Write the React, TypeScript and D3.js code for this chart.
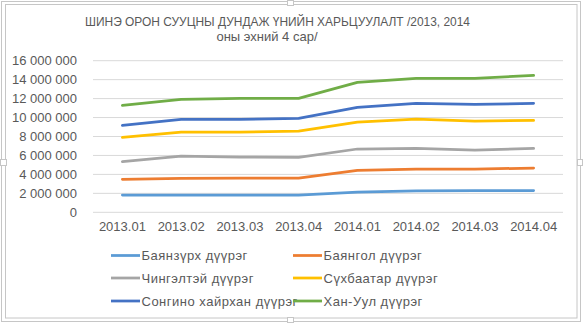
import React from "react";
import * as d3 from "d3";

const categories = ["2013.01", "2013.02", "2013.03", "2013.04", "2014.01", "2014.02", "2014.03", "2014.04"];
const seriesNames = [
  "Баянзүрх дүүрэг",
  "Баянгол дүүрэг",
  "Чингэлтэй дүүрэг",
  "Сүхбаатар дүүрэг",
  "Сонгино хайрхан дүүрэг",
  "Хан-Уул дүүрэг",
];
const bayanzurkh = [1820000, 1820000, 1820000, 1820000, 2140000, 2250000, 2300000, 2300000];
const bayangol = [3480000, 3580000, 3600000, 3600000, 4430000, 4560000, 4560000, 4670000];
const chingeltei = [5340000, 5940000, 5830000, 5800000, 6680000, 6750000, 6570000, 6750000];
const sukhbaatar = [7910000, 8470000, 8470000, 8570000, 9520000, 9840000, 9620000, 9700000];
const songino = [9170000, 9800000, 9800000, 9910000, 11070000, 11500000, 11390000, 11500000];
const khanuul = [11280000, 11920000, 12030000, 12020000, 13710000, 14130000, 14130000, 14450000];
const seriesValues = [bayanzurkh, bayangol, chingeltei, sukhbaatar, songino, khanuul];
const colors = ["#5B9BD5", "#ED7D31", "#A5A5A5", "#FFC000", "#4472C4", "#70AD47"];
const yTicks = [0, 2000000, 4000000, 6000000, 8000000, 10000000, 12000000, 14000000, 16000000];

const W = 584;
const H = 323;
const FONT = "'Liberation Sans', Arial, sans-serif";

export default function App() {
  const x = d3.scaleBand<string>().domain(categories).range([93, 563]);
  const y = d3.scaleLinear().domain([0, 16000000]).range([212.3, 60.7]);
  const line = d3
    .line<number>()
    .x((_, i) => (x(categories[i]) as number) + x.bandwidth() / 2)
    .y((d) => y(d));
  const fmt = (v: number) => d3.format(",")(v).replace(/,/g, " ");

  const legendPos = [
    [111, 255.5],
    [293, 255.5],
    [111, 278],
    [293, 278],
    [111, 301],
    [293, 301],
  ];

  return (
    <svg
      width={W}
      height={H}
      style={{ position: "absolute", left: 0, top: 0, background: "#fff", fontFamily: FONT }}
    >
      <rect x={1.5} y={1.5} width={579} height={320} fill="none" stroke="#c6c6c6" />
      <rect x={5.5} y={4.5} width={571.5} height={313.5} fill="#fff" stroke="#c6c6c6" />
      <rect x={287.5} y={0.5} width={6} height={5} fill="#fff" stroke="#c6c6c6" />
      <rect x={287.5} y={317.5} width={6} height={5} fill="#fff" stroke="#c6c6c6" />
      <rect x={0.5} y={159.5} width={6} height={6} fill="#fff" stroke="#c6c6c6" />
      <rect x={577.5} y={159.5} width={5} height={6} fill="#fff" stroke="#c6c6c6" />

      <text
        x={85}
        y={25.5}
        fontSize={13.5}
        fill="#595959"
        textLength={385}
        lengthAdjust="spacingAndGlyphs"
      >
        ШИНЭ ОРОН СУУЦНЫ ДУНДАЖ ҮНИЙН ХАРЬЦУУЛАЛТ /2013, 2014
      </text>
      <text x={267} y={41} textAnchor="middle" fontSize={13} fill="#595959">
        оны эхний 4 сар/
      </text>

      {yTicks.map((t) => (
        <g key={t}>
          <line x1={93} x2={563} y1={y(t)} y2={y(t)} stroke="#d9d9d9" strokeWidth={1} />
          <text x={77} y={y(t) + 4.5} textAnchor="end" fontSize={13} fill="#595959">
            {fmt(t)}
          </text>
        </g>
      ))}

      {categories.map((c) => (
        <text
          key={c}
          x={(x(c) as number) + x.bandwidth() / 2}
          y={231}
          textAnchor="middle"
          fontSize={13}
          fill="#595959"
        >
          {c}
        </text>
      ))}

      {seriesValues.map((vals, i) => (
        <path
          key={i}
          d={line(vals) as string}
          fill="none"
          stroke={colors[i]}
          strokeWidth={2.75}
          strokeLinecap="round"
          strokeLinejoin="round"
        />
      ))}

      {seriesNames.map((n, i) => {
        const [lx, ly] = legendPos[i];
        return (
          <g key={n}>
            <line x1={lx} x2={lx + 29} y1={ly} y2={ly} stroke={colors[i]} strokeWidth={2.75} />
            <text x={lx + 30.5} y={ly + 4.5} fontSize={13} letterSpacing={0.5} fill="#595959">
              {n}
            </text>
          </g>
        );
      })}
    </svg>
  );
}
